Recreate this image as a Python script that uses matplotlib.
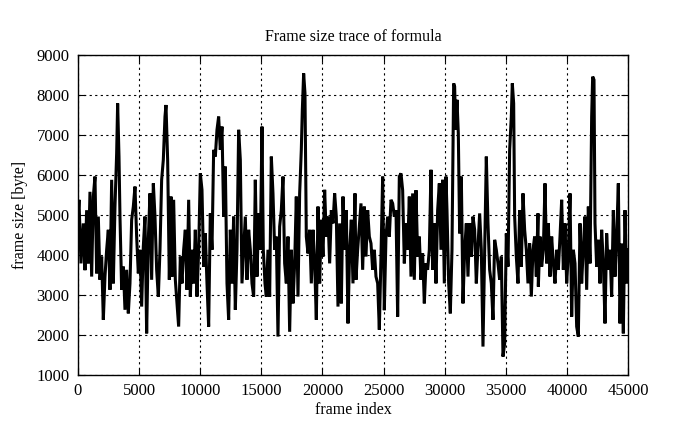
import numpy as np
import matplotlib
matplotlib.use("Agg")
import matplotlib.pyplot as plt

# frame index / frame size [byte] readings taken off the trace
frames = [
    0, 82, 246, 437, 573, 709, 846, 982, 1119, 1255, 1391, 1528, 1664, 1800, 1937,
    2073, 2209, 2346, 2482, 2618, 2755, 2891, 3027, 3164, 3245, 3355, 3436, 3573,
    3709, 3845, 3982, 4118, 4254, 4391, 4527, 4664, 4800, 4936, 5073, 5209, 5345,
    5482, 5618, 5754, 5891, 6027, 6164, 6300, 6436, 6573, 6709, 6845, 6982, 7118,
    7200, 7336, 7473, 7609,
    7691, 7827, 7964, 8100, 8236, 8373, 8509, 8645, 8782, 8918, 9055, 9191, 9327,
    9464, 9600, 9736, 9873, 10009, 10145, 10282, 10418, 10555, 10691, 10827, 10964,
    11100, 11236, 11373, 11509, 11645, 11782, 11918, 12055, 12191, 12327, 12464,
    12600, 12736, 12873, 13009, 13145, 13282, 13418, 13555, 13691, 13827, 13964,
    14100, 14236, 14373, 14509, 14645, 14782, 14918, 15054,
    15163, 15300, 15409, 15545, 15682, 15818, 15954, 16091, 16227, 16363, 16500,
    16636, 16772, 16909, 17045, 17182, 17318, 17454, 17591, 17727, 17863, 18000,
    18136, 18272, 18354, 18463, 18572, 18681, 18818, 18954, 19090, 19227, 19363,
    19500, 19636, 19772, 19909, 20045, 20181, 20318, 20454, 20590, 20727, 20863,
    20999, 21136, 21272, 21408, 21545, 21681, 21817, 21954, 22090, 22227, 22363,
    22499, 22663,
    22745, 22881, 23018, 23154, 23291, 23427, 23563, 23700, 23836, 23972, 24109,
    24245, 24381, 24518, 24654, 24790, 24927, 25063, 25199, 25336, 25472, 25609,
    25745, 25881, 26018, 26154, 26290, 26427, 26563, 26699, 26836, 26972, 27108,
    27245, 27381, 27517, 27654, 27790, 27926, 28063, 28199, 28336, 28472, 28608,
    28745, 28881, 29017, 29154, 29290, 29426, 29563, 29699, 29835, 29972, 30108,
    30190, 30327, 30463, 30599, 30736, 30817, 30899, 31008, 31117, 31226, 31363,
    31499, 31636, 31772, 31908, 32045, 32181, 32317, 32454, 32590, 32726, 32863,
    32999, 33135, 33272, 33408, 33544, 33681, 33817, 33954, 34090, 34226, 34363,
    34499, 34635, 34772, 34908, 35044, 35181, 35317, 35453, 35535, 35645, 35726,
    35863, 35999, 36135, 36272, 36408, 36544, 36681, 36817, 36953, 37090, 37226,
    37362, 37499, 37635,
    37664, 37800, 37937, 38073, 38209, 38346, 38482, 38618, 38755, 38891, 39027,
    39164, 39300, 39437, 39573, 39709, 39846, 39982, 40118, 40255, 40391, 40527,
    40664, 40800, 40936, 41073, 41209, 41345, 41482, 41618, 41755, 41891, 42027,
    42109, 42218, 42300, 42436, 42573, 42709, 42845, 42982, 43118, 43254, 43391,
    43527, 43663, 43800, 43936, 44072, 44209, 44345, 44481, 44618, 44754, 44890,
    44972,
]

sizes = [
    4960, 5380, 3790, 4790, 3620, 5120, 3790, 5580, 3460, 5460, 5960, 3540, 4960,
    3380, 3960, 2380, 3460, 4130, 4630, 3130, 5880, 3290, 5210, 6540, 7790, 6460,
    4960, 3130, 3710, 2630, 3630, 2540, 3290, 4880, 5210, 5710, 4460, 3540, 4130,
    2710, 4210, 4960, 2040, 4380, 5540, 3380, 5790, 4960, 3630, 2960, 4130, 5880,
    6380, 7460, 7750, 6380, 3380, 5460,
    3460, 5380, 3380, 2790, 2210, 3960, 3290, 4130, 4630, 3130, 5380, 2960, 4130,
    3290, 4630, 2960, 4130, 6040, 5630, 3710, 4540, 3290, 2210, 5040, 4130, 6630,
    6460, 7130, 7460, 6630, 7210, 4960, 6210, 3290, 2380, 4630, 3290, 4960, 2630,
    4130, 7130, 6380, 3290, 4130, 4960, 3380, 4630, 4130, 3290, 2960, 5880, 3460,
    5040, 4130, 7210,
    4130, 3290, 2960, 4130, 2960, 6460, 5540, 4130, 4460, 1960, 4710, 5120, 5960,
    3790, 3290, 4460, 2080, 4130, 2790, 3790, 5460, 2960, 5540, 6630, 7620, 8540,
    8040, 4460, 4040, 4630, 3290, 4630, 3790, 2380, 5210, 3290, 4880, 3960, 5630,
    4460, 4960, 3790, 5120, 4790, 5540, 4960, 2710, 4790, 2790, 5460, 4130, 5120,
    2290, 4130, 4880, 3290, 5540,
    3380, 4130, 4710, 5290, 3630, 5210, 3960, 5120, 4460, 4290, 3630, 4130, 3460,
    3290, 2130, 3960, 5960, 2620, 4460, 4960, 4460, 5380, 5290, 4960, 5120, 2460,
    5960, 6040, 5620, 3790, 4790, 4130, 5460, 3460, 5540, 3380, 5620, 3960, 4460,
    3380, 4040, 2790, 3790, 3630, 4130, 6130, 3630, 4790, 3290, 5120, 5790, 4130,
    5880, 3290, 5960,
    5120, 3290, 2540, 4130, 8290, 8210, 7130, 7880, 7040, 4540, 5960, 2790, 4130,
    4790, 3460, 4790, 3960, 4960, 4630, 3290, 4210, 5040, 4130, 1710, 4130, 6460,
    4790, 3630, 3290, 2380, 4380, 4130, 3790, 3380, 3960, 1460, 1790, 4540, 3710,
    6630, 7460, 8290, 7790, 4960, 3960, 3290, 5120, 3710, 5540, 4630, 4130, 3290,
    4290, 2960, 4130, 4460, 3460, 5040,
    3210, 4460, 3710, 4130, 5790, 3790, 4790, 3460, 4460, 3790, 3290, 4130, 3630,
    4460, 5380, 3630, 4790, 3290, 4040, 5540, 2460, 4130, 3790, 2210, 1960, 4790,
    3290, 4210, 4960, 3130, 5210, 3790, 7460, 8460, 8380, 4790, 3710, 4380, 3290,
    4630, 3790, 2290, 4540, 3630, 4130, 2960, 5120, 3460, 4460, 5790, 2290, 4290,
    2040, 5120, 3290, 4130,
]

x_ticks = [0, 5000, 10000, 15000, 20000, 25000, 30000, 35000, 40000, 45000]
y_ticks = [1000, 2000, 3000, 4000, 5000, 6000, 7000, 8000, 9000]

plt.rcParams['font.family'] = ['Liberation Serif', 'DejaVu Serif']

fig = plt.figure(figsize=(6.95, 4.29), dpi=100)
ax = fig.add_axes([0.1122, 0.1259, 0.7914, 0.8718 - 0.1259])

ax.plot(frames, sizes, color="black", lw=2.2, solid_joinstyle="miter")

ax.set_xlim(0, 45000)
ax.set_ylim(1000, 9000)
ax.set_xticks(x_ticks)
ax.set_yticks(y_ticks)
ax.tick_params(direction="in", length=5, width=0.8, top=True, right=True,
               labelsize=12, pad=6)
ax.grid(True, color="black", linestyle=(0, (2, 3)), linewidth=0.8)
for s in ax.spines.values():
    s.set_linewidth(1.0)

ax.set_title("Frame size trace of formula", fontsize=11.5, pad=10)
ax.set_xlabel("frame index", fontsize=11.5, labelpad=2)
ax.set_ylabel("frame size [byte]", fontsize=11.5, labelpad=6)

plt.savefig("out.png", dpi=100)
